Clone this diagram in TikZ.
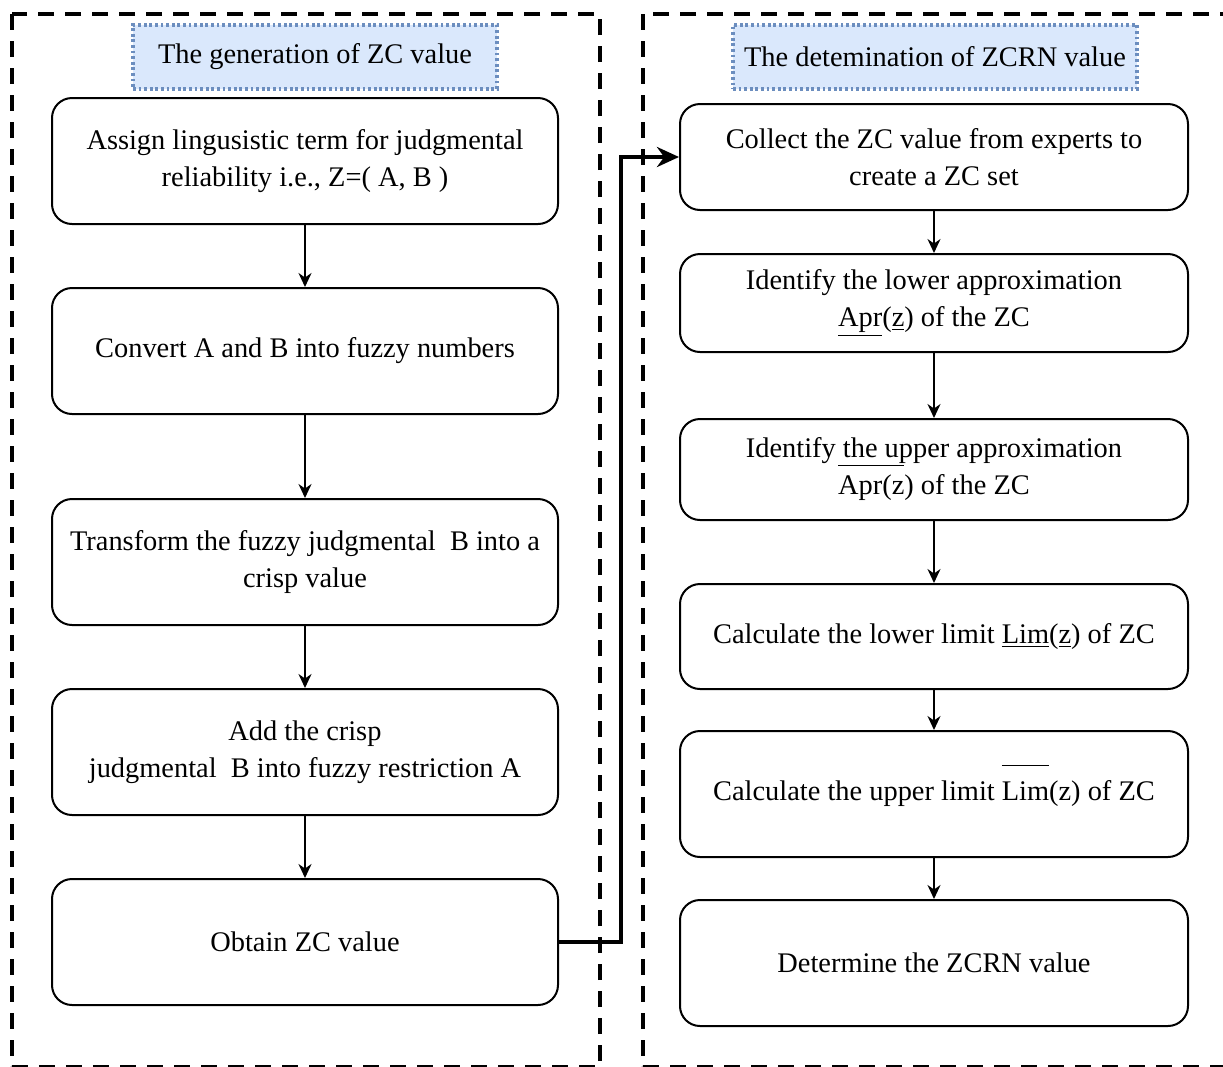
\documentclass[tikz,border=0pt]{standalone}
\usepackage{fontspec}
\setmainfont{Liberation Serif}
\usepackage{xcolor}
\usetikzlibrary{arrows.meta,positioning}
\definecolor{titlefill}{RGB}{218,232,252}
\definecolor{titledraw}{RGB}{108,142,191}
\newcommand{\lowbar}[1]{\underline{#1}}
\newcommand{\highbar}[2][1.05em]{\(\smash{\overline{\mbox{#2\rule{0pt}{#1}}}}\)}

\begin{document}
\begin{tikzpicture}[x=0.5pt,y=-0.5pt, node distance=31pt,
        stepbox/.style={rectangle,rounded corners=10pt,draw=black,line width=1pt,
          minimum width=253pt,minimum height=63pt,align=center,
          font=\fontsize{14.2}{18.5}\selectfont},
        titlebox/.style={rectangle,draw=titledraw,fill=titlefill,line width=1.6pt,
          dash pattern=on 1.4pt off 1.4pt,minimum height=32pt,inner xsep=4pt,
          font=\fontsize{14.2}{18.5}\selectfont},
        frame/.style={draw=black,line width=2pt,dash pattern=on 8pt off 5.5pt},
        arrow/.style={-{Stealth[length=7pt,width=6.5pt]},line width=1pt},
        link/.style={-{Stealth[length=11pt,width=10pt]},line width=2pt}]
        \useasboundingbox (0,0) rectangle (1223,1067);
        \clip (0,0) rectangle (1223,1067);
        % dashed frames
        \draw[frame] (12,14) rectangle (600,1067);
        \draw[frame] (643,14) rectangle (1250,1067);
        % titles
        \node[titlebox,minimum width=182pt] (tleft) at (315,57) {The generation of ZC value};
        \node[titlebox,minimum width=202pt] (tright) at (935,57) {The detemination of ZCRN value};
        % left column
        \node[stepbox] (assign) at (305,161) {Assign lingusistic term for judgmental\\reliability i.e., Z=( A, B )};
        \node[stepbox,below=of assign] (convert) {Convert A and B into fuzzy numbers};
        \node[stepbox,below=41.5pt of convert] (transform) {Transform the fuzzy judgmental~ B into a\\crisp value};
        \node[stepbox,below=of transform] (addcrisp) {Add the crisp\\judgmental~ B into fuzzy restriction A};
        \node[stepbox,below=of addcrisp] (obtain) {Obtain ZC value};
        % right column
        \node[stepbox,minimum width=254pt,minimum height=53pt] (collect) at (934,157) {Collect the ZC value from experts to\\create a ZC set};
        \node[stepbox,minimum width=254pt,minimum height=49pt,below=21pt of collect] (lower) {Identify the lower approximation\\\lowbar{Apr}(\lowbar{z}) of the ZC};
        \node[stepbox,minimum width=254pt,minimum height=50.5pt,below=32.5pt of lower] (upper) {Identify the upper approximation\\\highbar[0.95em]{Apr(z}) of the ZC};
        \node[stepbox,minimum width=254pt,minimum height=52.5pt,below=of upper] (lowlim) {Calculate the lower limit \lowbar{Lim}(\lowbar{z}) of ZC};
        \node[stepbox,minimum width=254pt,below=20pt of lowlim] (uplim) {Calculate the upper limit \highbar[1.15em]{Lim}(z) of ZC};
        \node[stepbox,minimum width=254pt,below=20.5pt of uplim] (zcrn) {Determine the ZCRN value};
        % arrows
        \draw[arrow] (assign) -- (convert);
        \draw[arrow] (convert) -- (transform);
        \draw[arrow] (transform) -- (addcrisp);
        \draw[arrow] (addcrisp) -- (obtain);
        \draw[arrow] (collect) -- (lower);
        \draw[arrow] (lower) -- (upper);
        \draw[arrow] (upper) -- (lowlim);
        \draw[arrow] (lowlim) -- (uplim);
        \draw[arrow] (uplim) -- (zcrn);
        \draw[link] (obtain.east) -- ++(62,0) |- (collect.west);
      \end{tikzpicture}
\end{document}
